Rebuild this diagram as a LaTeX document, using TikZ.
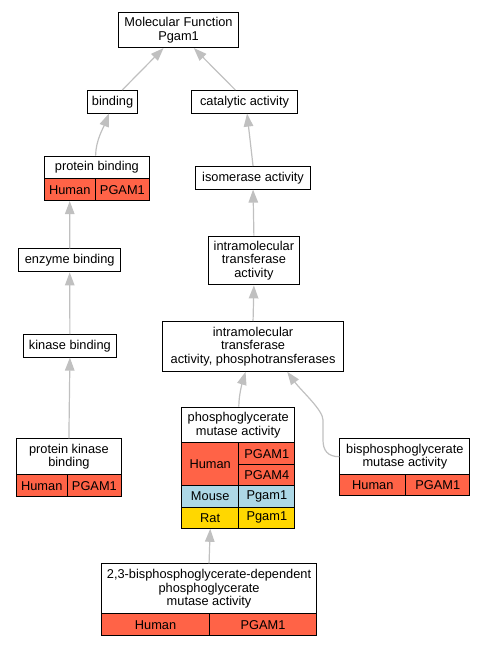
\documentclass[tikz,border=0pt]{standalone}
\usepackage{fontspec}
\setmainfont{Liberation Sans}
\usetikzlibrary{arrows.meta}
\definecolor{human}{HTML}{FF6347}
\definecolor{mouse}{HTML}{ADD8E6}
\definecolor{rat}{HTML}{FFD700}
\definecolor{edgegray}{HTML}{C0C0C0}
\begin{document}
\begin{tikzpicture}[x=1pt,y=-1pt,
  box/.style={draw=black, line width=1.1pt, fill=white, anchor=north west, inner sep=0pt, align=center,
    font=\fontsize{12.8}{13.4}\selectfont},
  hum/.style={box, fill=human},
  mou/.style={box, fill=mouse},
  rt/.style={box, fill=rat},
  edge/.style={draw=edgegray, line width=1.2pt, -{Triangle[length=13pt,width=9.5pt,fill=edgegray]}}]
\useasboundingbox (0,0) rectangle (484,645);

% top
\node[box, minimum width=120pt, minimum height=35pt] (mf) at (118,12) {Molecular Function\\Pgam1};
\node[box, minimum width=50pt, minimum height=22.5pt] (bind) at (87,90) {binding};
\node[box, minimum width=106pt, minimum height=22.5pt] (cat) at (191,90) {catalytic activity};

% protein binding
\node[box, minimum width=105.3pt, minimum height=22.6pt] (pb) at (43.7,155.7) {protein binding};
\node[hum, minimum width=51pt, minimum height=21.7pt] (pbH) at (43.7,178.3) {Human};
\node[hum, minimum width=54.3pt, minimum height=21.7pt] (pbG) at (94.7,178.3) {PGAM1};

\node[box, minimum width=115pt, minimum height=22.5pt] (iso) at (195,166) {isomerase activity};
\node[box, minimum width=101.7pt, minimum height=23pt] (enz) at (18.3,248.3) {enzyme binding};
\node[box, minimum width=91.3pt, minimum height=48.6pt] (imt) at (207.7,235.7) {intramolecular\\transferase\\activity};
\node[box, minimum width=93.3pt, minimum height=22.5pt] (kin) at (22.7,334) {kinase binding};
\node[box, minimum width=180.4pt, minimum height=49.7pt] (phos) at (162.3,321) {intramolecular\\transferase\\activity, phosphotransferases};

% phosphoglycerate mutase activity
\node[box, minimum width=113.3pt, minimum height=35.6pt] (pgm) at (181,406.7) {phosphoglycerate\\mutase activity};
\node[hum, minimum width=57.3pt, minimum height=42.7pt] (pgmH) at (181,442.3) {Human};
\node[hum, minimum width=56pt, minimum height=21.7pt] (pgmG1) at (238.3,442.3) {PGAM1};
\node[hum, minimum width=56pt, minimum height=21pt] (pgmG4) at (238.3,464) {PGAM4};
\node[mou, minimum width=57.3pt, minimum height=21.7pt] (pgmM) at (181,485) {Mouse};
\node[mou, minimum width=56pt, minimum height=21.7pt] (pgmMg) at (238.3,485) {Pgam1};
\node[rt, minimum width=57.3pt, minimum height=21pt] (pgmR) at (181,506.7) {Rat};
\node[rt, minimum width=56pt, minimum height=21pt] (pgmRg) at (238.3,506.7) {Pgam1};

% bisphosphoglycerate mutase activity
\node[box, minimum width=130pt, minimum height=35.7pt] (bpgm) at (339.3,438.3) {bisphosphoglycerate\\mutase activity};
\node[hum, minimum width=66pt, minimum height=21pt] (bpgmH) at (339.3,474) {Human};
\node[hum, minimum width=64pt, minimum height=21pt] (bpgmG) at (405.3,474) {PGAM1};

% protein kinase binding
\node[box, minimum width=105.3pt, minimum height=36pt] (pkb) at (15.7,438.3) {protein kinase\\binding};
\node[hum, minimum width=51pt, minimum height=21.7pt] (pkbH) at (15.7,474.3) {Human};
\node[hum, minimum width=54.3pt, minimum height=21.7pt] (pkbG) at (66.7,474.3) {PGAM1};

% 2,3-bisphosphoglycerate-dependent
\node[box, minimum width=215pt, minimum height=50pt] (bis) at (101,563.3) {2,3-bisphosphoglycerate-dependent\\phosphoglycerate\\mutase activity};
\node[hum, minimum width=108pt, minimum height=21.7pt] (bisH) at (101,613.3) {Human};
\node[hum, minimum width=107pt, minimum height=21.7pt] (bisG) at (209,613.3) {PGAM1};

% edges
\draw[edge] ([xshift=9.7pt]bind.north) -- ([xshift=-15pt]mf.south);
\draw[edge] ([xshift=-9.2pt]cat.north) -- ([xshift=15.3pt]mf.south);
\draw[edge] ([xshift=-1.3pt]pb.north) .. controls +(0,-15) and +(-5,13) .. ([xshift=-3.7pt]bind.south);
\draw[edge] (iso.north) -- ([xshift=2.5pt]cat.south);
\draw[edge] (enz.north) -- (pbH.south);
\draw[edge] (imt.north) -- (iso.south);
\draw[edge] (kin.north) -- (enz.south);
\draw[edge] (phos.north) -- (imt.south);
\draw[edge] (pkb.north) -- (kin.south);
\draw[edge] ([xshift=0.6pt]pgm.north) .. controls +(0,-12) and +(-3,10) .. ([xshift=-7.5pt]phos.south);
\coordinate (b1) at (323,440);
\coordinate (b2) at (323,420);
\draw[edge] (bpgm.west) .. controls +(-12,0) and +(0,10) .. (b1) -- (b2) .. controls +(0,-10) and +(14,19) .. ([xshift=34.2pt]phos.south);
\draw[edge] (bis.north) -- (pgmR.south);
\end{tikzpicture}
\end{document}
